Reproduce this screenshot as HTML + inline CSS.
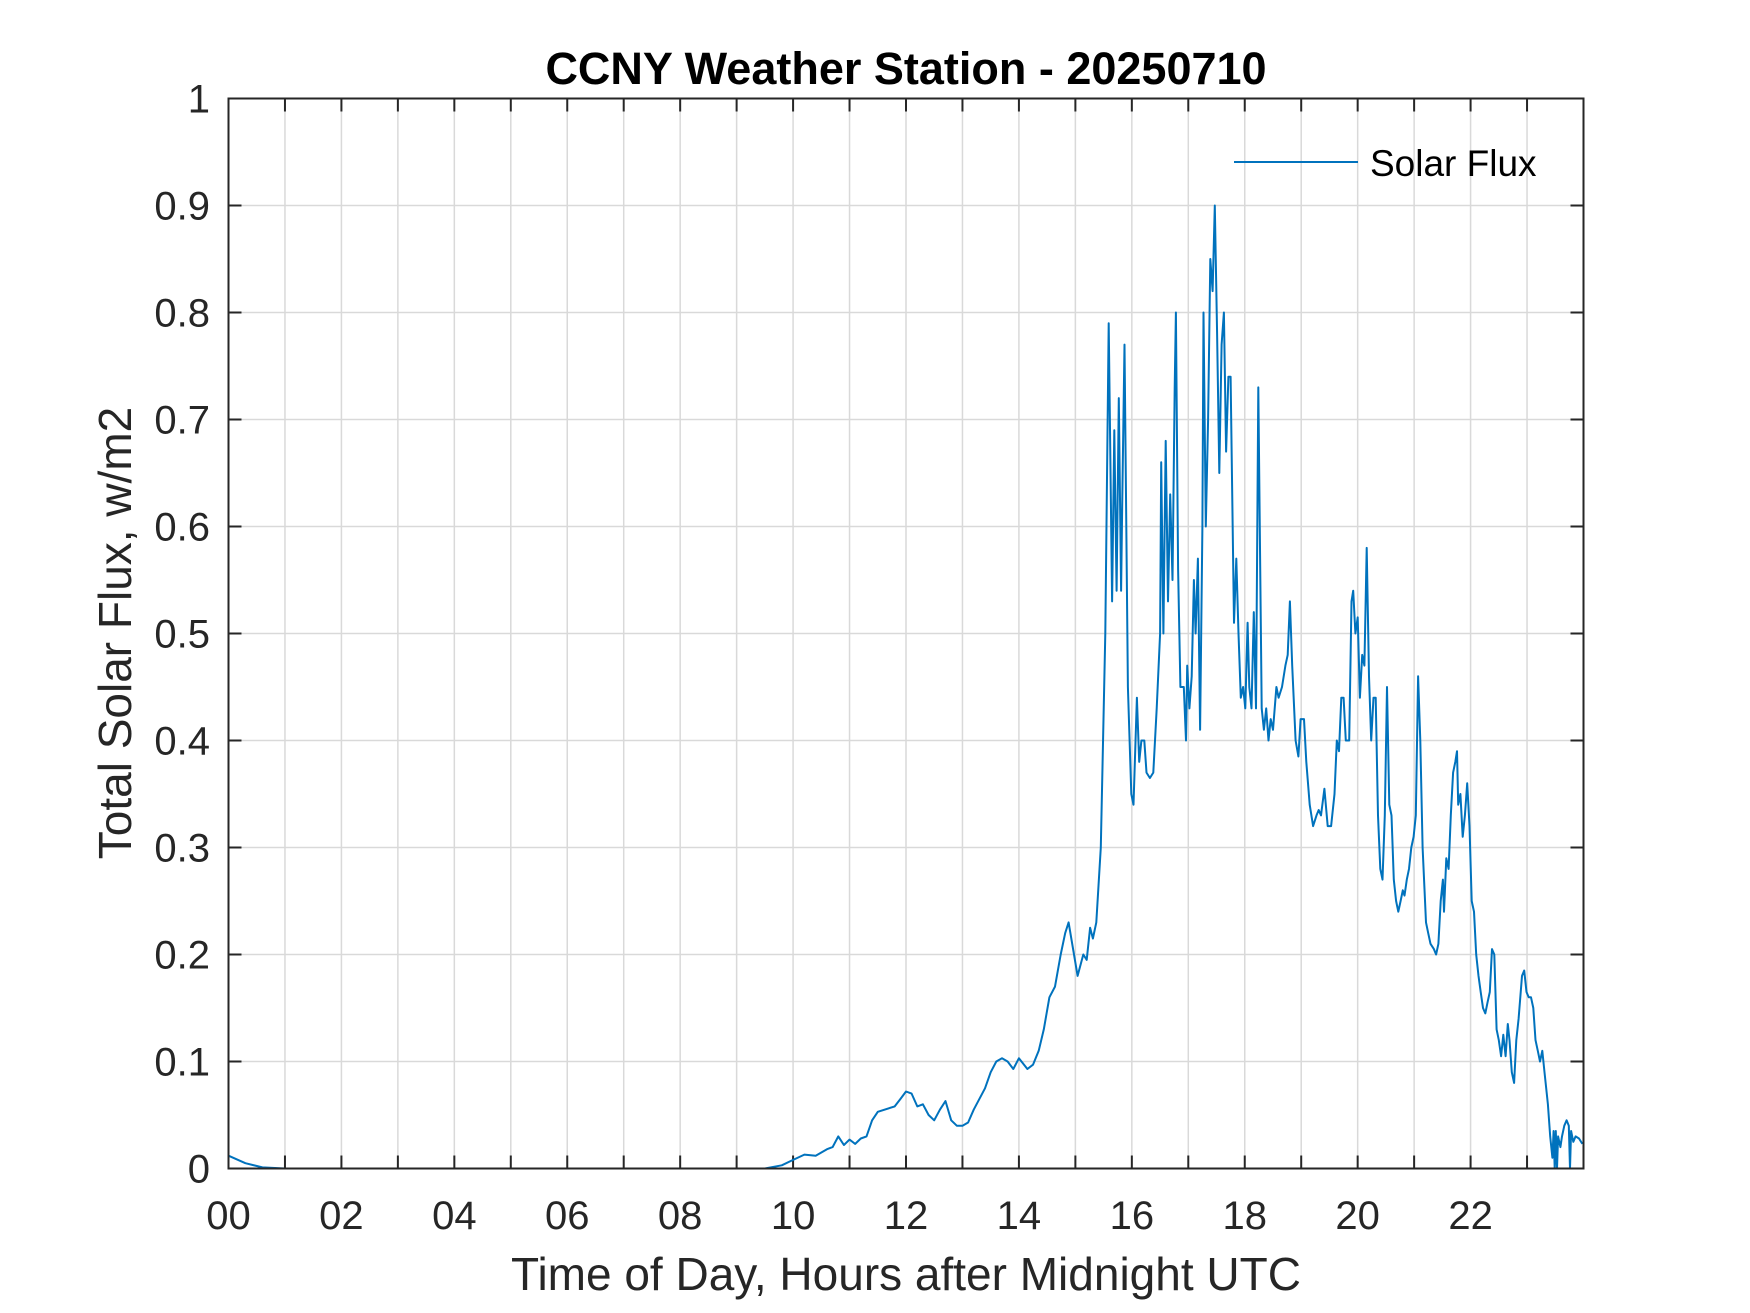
<!DOCTYPE html>
<html><head><meta charset="utf-8"><style>
html,body{margin:0;padding:0;background:#fff;}
svg{display:block;font-family:"Liberation Sans",Arial,sans-serif;}
</style></head><body>
<svg id="chart" width="1750" height="1313" viewBox="0 0 1750 1313" xmlns="http://www.w3.org/2000/svg">
<rect width="1750" height="1313" fill="#fff"/>
<text x="906" y="84" text-anchor="middle" font-size="45" font-weight="bold" fill="#000">CCNY Weather Station - 20250710</text>
<g id="grid"></g>
<g id="ticks"></g>
<g id="series"></g>
<rect x="228.5" y="98.5" width="1355" height="1070" fill="none" stroke="#262626" stroke-width="2"/>
<text transform="translate(131,633) rotate(-90)" text-anchor="middle" font-size="46" fill="#262626">Total Solar Flux, w/m2</text>
<text x="906" y="1290" text-anchor="middle" font-size="46" fill="#262626">Time of Day, Hours after Midnight UTC</text>
<g>
<line x1="1234" y1="162" x2="1358" y2="162" stroke="#0072BD" stroke-width="2"/>
<text x="1370" y="176" font-size="37" fill="#000">Solar Flux</text>
</g>
</svg>
<script>
const hours = [0,0.3,0.6,1,3,5,7,9,9.5,9.8,10.0,10.2,10.4,10.6,10.7,10.8,10.9,11.0,11.1,11.2,11.3,11.4,11.5,11.8,11.9,12.0,12.1,12.2,12.3,12.4,12.5,12.6,12.7,12.8,12.9,13.0,13.1,13.2,13.4,13.5,13.6,13.7,13.8,13.9,14.0,14.15,14.25,14.35,14.44,14.54,14.64,14.74,14.82,14.88,15.04,15.14,15.20,15.26,15.31,15.37,15.45,15.53,15.59,15.65,15.69,15.73,15.77,15.81,15.83,15.87,15.93,15.99,16.03,16.09,16.13,16.17,16.22,16.26,16.32,16.38,16.44,16.50,16.52,16.56,16.60,16.64,16.68,16.72,16.76,16.78,16.82,16.86,16.92,16.96,16.98,17.02,17.06,17.10,17.13,17.17,17.21,17.25,17.27,17.31,17.35,17.39,17.43,17.47,17.51,17.55,17.59,17.63,17.67,17.71,17.75,17.81,17.85,17.89,17.93,17.97,18.01,18.05,18.08,18.12,18.16,18.20,18.24,18.30,18.34,18.38,18.42,18.46,18.50,18.56,18.60,18.66,18.72,18.76,18.80,18.84,18.90,18.95,18.99,19.05,19.09,19.15,19.21,19.27,19.31,19.35,19.41,19.47,19.53,19.59,19.63,19.67,19.71,19.75,19.79,19.85,19.89,19.92,19.96,20.00,20.04,20.08,20.12,20.16,20.20,20.24,20.28,20.32,20.36,20.40,20.44,20.48,20.52,20.56,20.60,20.64,20.68,20.72,20.76,20.80,20.83,20.87,20.91,20.95,20.99,21.03,21.07,21.11,21.15,21.21,21.25,21.29,21.35,21.39,21.43,21.47,21.51,21.53,21.57,21.61,21.65,21.69,21.73,21.76,21.78,21.82,21.86,21.90,21.94,21.98,22.02,22.06,22.10,22.14,22.18,22.22,22.26,22.30,22.34,22.38,22.42,22.46,22.50,22.54,22.58,22.62,22.66,22.69,22.73,22.77,22.81,22.85,22.91,22.95,22.99,23.03,23.07,23.11,23.15,23.19,23.23,23.27,23.31,23.37,23.41,23.45,23.47,23.49,23.51,23.53,23.55,23.59,23.62,23.66,23.70,23.74,23.76,23.78,23.82,23.86,23.92,23.98];
const flux = [0.012,0.005,0.001,0,0,0,0,0,0,0.003,0.008,0.013,0.012,0.018,0.02,0.03,0.022,0.027,0.023,0.028,0.03,0.045,0.053,0.058,0.065,0.072,0.07,0.058,0.06,0.05,0.045,0.055,0.063,0.045,0.04,0.04,0.043,0.055,0.075,0.09,0.1,0.103,0.1,0.093,0.103,0.093,0.097,0.11,0.13,0.16,0.17,0.2,0.22,0.23,0.18,0.2,0.195,0.225,0.215,0.23,0.3,0.5,0.79,0.53,0.69,0.54,0.72,0.54,0.62,0.77,0.45,0.35,0.34,0.44,0.38,0.4,0.4,0.37,0.365,0.37,0.43,0.5,0.66,0.5,0.68,0.53,0.63,0.55,0.73,0.8,0.56,0.45,0.45,0.4,0.47,0.43,0.46,0.55,0.5,0.57,0.41,0.6,0.8,0.6,0.7,0.85,0.82,0.9,0.78,0.65,0.77,0.8,0.67,0.74,0.74,0.51,0.57,0.5,0.44,0.45,0.43,0.51,0.45,0.43,0.52,0.43,0.73,0.43,0.41,0.43,0.4,0.42,0.41,0.45,0.44,0.45,0.47,0.48,0.53,0.47,0.4,0.385,0.42,0.42,0.38,0.34,0.32,0.33,0.335,0.33,0.355,0.32,0.32,0.35,0.4,0.39,0.44,0.44,0.4,0.4,0.53,0.54,0.5,0.515,0.44,0.48,0.47,0.58,0.46,0.4,0.44,0.44,0.33,0.28,0.27,0.33,0.45,0.34,0.33,0.27,0.25,0.24,0.25,0.26,0.255,0.27,0.28,0.3,0.31,0.33,0.46,0.4,0.3,0.23,0.22,0.21,0.205,0.2,0.21,0.25,0.27,0.24,0.29,0.28,0.33,0.37,0.38,0.39,0.34,0.35,0.31,0.33,0.36,0.32,0.25,0.24,0.2,0.18,0.165,0.15,0.145,0.155,0.165,0.205,0.2,0.13,0.12,0.105,0.125,0.105,0.135,0.12,0.09,0.08,0.12,0.14,0.18,0.185,0.165,0.16,0.16,0.15,0.12,0.11,0.1,0.11,0.09,0.06,0.03,0.01,0.035,0,0.035,0,0.03,0.02,0.03,0.04,0.045,0.04,0,0.035,0.025,0.03,0.028,0.023];
const xTickLabels = ["00","02","04","06","08","10","12","14","16","18","20","22"];
const yTickLabels = ["0","0.1","0.2","0.3","0.4","0.5","0.6","0.7","0.8","0.9","1"];

const L=228.5,R=1583.5,T=98.5,B=1168.5;
function xs(h){return L+(h/24)*(R-L);}
function ys(v){return B-(v/1)*(B-T);}
const NS="http://www.w3.org/2000/svg";
function mk(tag,attrs,parent){const e=document.createElementNS(NS,tag);for(const k in attrs)e.setAttribute(k,attrs[k]);parent.appendChild(e);return e;}
const grid=document.getElementById('grid'),ticks=document.getElementById('ticks'),series=document.getElementById('series');
for(let h=1;h<24;h++){
  const x=xs(h);
  const g=mk('line',{x1:x,y1:T,x2:x,y2:B,stroke:'#d9d9d9','stroke-width':1.5},grid);
  
  
  const t1=mk('line',{x1:x,y1:B,x2:x,y2:B-13,stroke:'#262626','stroke-width':2},ticks);
  
  
  const t2=mk('line',{x1:x,y1:T,x2:x,y2:T+13,stroke:'#262626','stroke-width':2},ticks);
  
  
}
xTickLabels.forEach((lab,i)=>{
  const t=mk('text',{x:xs(i*2),y:1229,'text-anchor':'middle','font-size':40,fill:'#262626'},ticks);
  t.textContent=lab;
  
  
});
yTickLabels.forEach((lab,i)=>{
  const v=i/10,y=ys(v);
  if(i>0&&i<10){
    const g=mk('line',{x1:L,y1:y,x2:R,y2:y,stroke:'#d9d9d9','stroke-width':1.5},grid);
    
    
    const t1=mk('line',{x1:L,y1:y,x2:L+13,y2:y,stroke:'#262626','stroke-width':2},ticks);
    
    
    const t2=mk('line',{x1:R,y1:y,x2:R-13,y2:y,stroke:'#262626','stroke-width':2},ticks);
    
    
  }
  const t=mk('text',{x:210,y:y+14,'text-anchor':'end','font-size':40,fill:'#262626'},ticks);
  t.textContent=lab;
  
  
});
let d='';
hours.forEach((h,i)=>{d+=(i?'L':'M')+xs(h).toFixed(1)+','+ys(flux[i]).toFixed(1);});
const p=mk('path',{d:d,fill:'none',stroke:'#0072BD','stroke-width':2,'stroke-linejoin':'round'},series);


</script>
</body></html>
